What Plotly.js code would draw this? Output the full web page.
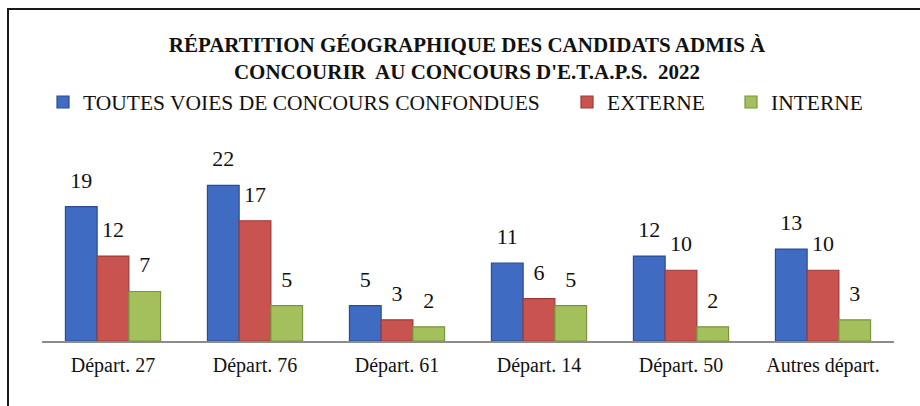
<!DOCTYPE html>
<html>
<head>
<meta charset="utf-8">
<script src="https://cdn.plot.ly/plotly-3.0.1.min.js"></script>
<style>html,body{margin:0;padding:0;background:#fff;}#chart{width:920px;height:406px;}</style>
</head>
<body>
<div id="chart"></div>
<script>
var categories = ['Départ. 27', 'Départ. 76', 'Départ. 61', 'Départ. 14', 'Départ. 50', 'Autres départ.'];
var toutes = [19, 22, 5, 11, 12, 13];
var externe = [12, 17, 3, 6, 10, 10];
var interne = [7, 5, 2, 5, 2, 3];
var seriesNames = ['TOUTES VOIES DE CONCOURS CONFONDUES', 'EXTERNE', 'INTERNE'];

var fills = ['#3f6cc2', '#c9544f', '#a3c05c'];
var edges = ['#2b4c8f', '#9e3a36', '#7b9440'];
var FONT = 'Liberation Serif';
var series = [toutes, externe, interne];
var legends = ['legend', 'legend2', 'legend3'];

var traces = [];
series.forEach(function (vals, i) {
  traces.push({
    type: 'bar', x: categories, y: vals, name: seriesNames[i],
    offsetgroup: 'g' + i, legend: legends[i],
    marker: {color: fills[i], line: {color: edges[i], width: 1.2}},
    hoverinfo: 'skip'
  });
});
series.forEach(function (vals, i) {
  traces.push({
    type: 'scatter', mode: 'markers+text', x: categories, y: vals,
    offsetgroup: 'g' + i,
    text: vals.map(String), textposition: 'top center',
    textfont: {family: FONT, size: 22, color: '#111'},
    marker: {size: 20, opacity: 0}, showlegend: false, hoverinfo: 'skip', cliponaxis: false
  });
});

function legendAt(px) {
  return {orientation: 'h', xref: 'container', yref: 'container', y: 1 - 102 / 406,
    yanchor: 'middle', xanchor: 'left', x: px / 920,
    font: {family: FONT, size: 21.5, color: '#111'},
    bgcolor: 'rgba(0,0,0,0)', itemclick: false, itemdoubleclick: false};
}

var layout = {
  width: 920, height: 406,
  font: {family: FONT, size: 20, color: '#111'},
  margin: {l: 42, r: 26, t: 150, b: 65},
  paper_bgcolor: '#fff', plot_bgcolor: '#fff',
  barmode: 'group', bargap: 0.33, bargroupgap: 0,
  scattermode: 'group', scattergap: 0.33,
  title: {
    text: '<b>RÉPARTITION GÉOGRAPHIQUE DES CANDIDATS ADMIS À<br>CONCOURIR  AU CONCOURS D\'E.T.A.P.S.  2022</b>',
    font: {family: FONT, size: 21, color: '#111'},
    x: 467 / 920, xanchor: 'center', xref: 'container', yref: 'container', y: 1 - 52 / 406, yanchor: 'middle'
  },
  legend: legendAt(43),
  legend2: legendAt(567),
  legend3: legendAt(731),
  xaxis: {
    type: 'category', showline: true, linecolor: '#8c8c8c', linewidth: 2,
    ticks: '', showgrid: false, zeroline: false, fixedrange: true,
    tickfont: {family: FONT, size: 20, color: '#111'}, ticklabelstandoff: 5
  },
  yaxis: {range: [0, 27], visible: false, showgrid: false, zeroline: false, fixedrange: true},
  shapes: [{
    type: 'rect', xref: 'paper', yref: 'paper',
    x0: (8 - 42) / 852, x1: 1.2, y0: -0.6, y1: (341 - 9) / 191,
    line: {color: '#1a1a1a', width: 2}, fillcolor: 'rgba(0,0,0,0)', layer: 'below'
  }]
};

Plotly.newPlot('chart', traces, layout, {displayModeBar: false, staticPlot: true});
</script>
</body>
</html>
